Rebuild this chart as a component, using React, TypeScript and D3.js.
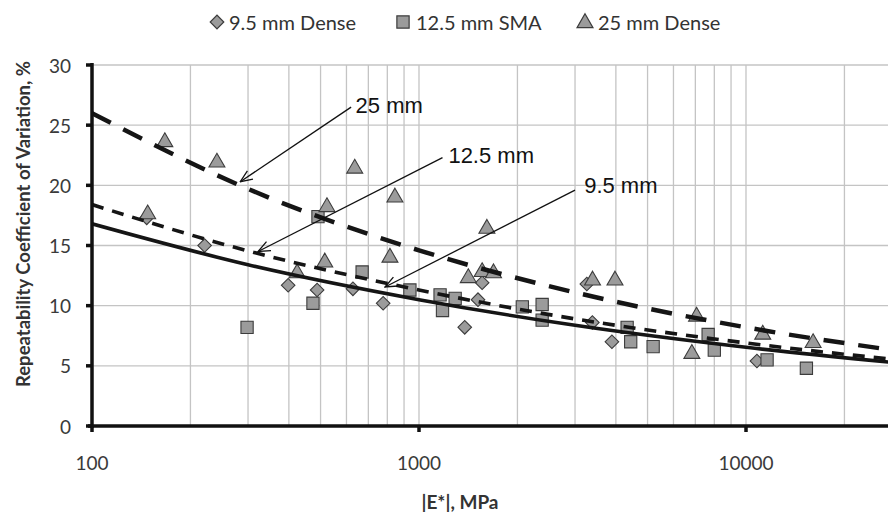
import React from "react";
import * as d3 from "d3";

const W = 888;
const H = 518;

// Tick labels
const yTicks = [0, 5, 10, 15, 20, 25, 30];
const xTickLabels = [100, 1000, 10000];
const legendLabels = ["9.5 mm Dense", "12.5 mm SMA", "25 mm Dense"];

// Scatter data: [|E*| MPa, CoV %]
const dense95: [number, number][] = [
  [147, 17.3], [221, 15.0], [398, 11.7], [488, 11.3], [628, 11.4], [777, 10.2],
  [1380, 8.2], [1515, 10.5], [1560, 11.9], [3260, 11.8], [3390, 8.6], [3890, 7.0],
  [10800, 5.4],
];
const sma125: [number, number][] = [
  [298, 8.2], [474, 10.2], [491, 17.4], [670, 12.8], [938, 11.3], [1160, 10.9],
  [1180, 9.6], [1290, 10.6], [2070, 9.9], [2380, 10.1], [2380, 8.8], [4330, 8.2],
  [4440, 7.0], [5200, 6.6], [7660, 7.6], [8000, 6.3], [11600, 5.5], [15300, 4.8],
];
const dense25: [number, number][] = [
  [148, 17.6], [167, 23.6], [241, 21.9], [424, 12.7], [515, 13.6], [523, 18.2],
  [636, 21.4], [815, 14.0], [844, 19.0], [1415, 12.3], [1560, 12.8], [1613, 16.4],
  [1690, 12.7], [3394, 12.1], [3975, 12.1], [6830, 6.0], [7060, 9.1], [11250, 7.6],
  [16040, 6.9],
];

// Trend lines
const trend95: [number, number][] = [
  [100, 16.8], [300, 13.4], [1000, 10.5], [3000, 8.37], [10000, 6.54], [30000, 5.2],
];
const trend125: [number, number][] = [
  [100, 18.4], [300, 14.55], [1000, 11.3], [3000, 8.9], [10000, 6.9], [30000, 5.46],
];
const trend25: [number, number][] = [
  [100, 26.0], [300, 19.7], [1000, 14.6], [3000, 11.1], [10000, 8.2], [30000, 6.2],
];

// Annotations: label, text anchor point (data), arrow start (data), arrow end (data)
const annotations = [
  { label: "25 mm", tx: 640, ty: 26.6, sx: 620, sy: 26.5, ex: 284, ey: 20.3 },
  { label: "12.5 mm", tx: 1230, ty: 22.5, sx: 1180, sy: 22.3, ex: 322, ey: 14.5 },
  { label: "9.5 mm", tx: 3200, ty: 20.0, sx: 3000, sy: 19.6, ex: 787, ey: 11.55 },
];

export default function App() {
  const x = d3.scaleLog().domain([100, 100000]).range([92, 1073]);
  const y = d3.scaleLinear().domain([0, 30]).range([426, 65]);
  const gridX = x.ticks().filter((t) => t > 100);
  const line = d3
    .line<[number, number]>()
    .x((d) => x(d[0]))
    .y((d) => y(d[1]))
    .curve(d3.curveMonotoneX);

  const diamond = d3.symbol().type(d3.symbolSquare).size(92)()!;
  const square = d3.symbol().type(d3.symbolSquare).size(150)()!;
  const triangle = d3.symbol().type(d3.symbolTriangle).size(110)()!;

  const fill = "#9b9b9b";
  const stroke = "#3c3c3c";
  const plotLeft = x(100);
  const plotTop = y(30);
  const plotBottom = y(0);

  const legendPos = [
    { sx: 217, tx: 229, shape: diamond, rot: 45 },
    { sx: 403, tx: 416, shape: square, rot: 0 },
    { sx: 585, tx: 598, shape: triangle, rot: 0 },
  ];

  return (
    <svg
      width={W}
      height={H}
      style={{ position: "absolute", left: 0, top: 0, background: "#fff" }}
    >
      <defs>
        <clipPath id="plot">
          <rect x={plotLeft} y={plotTop - 8} width={W - plotLeft} height={plotBottom - plotTop + 8} />
        </clipPath>
        <marker
          id="arr"
          viewBox="0 0 14 14"
          refX={13}
          refY={7}
          markerWidth={14}
          markerHeight={14}
          markerUnits="userSpaceOnUse"
          orient="auto"
        >
          <path d="M1,2 L13,7 L1,12" fill="none" stroke="#111" strokeWidth={1.3} />
        </marker>
      </defs>
      <rect x={0} y={0} width={W} height={H} fill="#fff" />

      {/* legend */}
      {legendLabels.map((lab, i) => (
        <g key={lab}>
          <path
            d={legendPos[i].shape}
            transform={`translate(${legendPos[i].sx},${i === 2 ? 23 : 22}) rotate(${legendPos[i].rot})`}
            fill={fill}
            stroke={stroke}
            strokeWidth={1.2}
          />
          <text
            x={legendPos[i].tx}
            y={22}
            dominantBaseline="central"
            fontFamily="Lato, 'Open Sans', sans-serif"
            fontSize={20}
            fill="#333"
          >
            {lab}
          </text>
        </g>
      ))}

      {/* gridlines */}
      <g stroke="#c4c4c4" strokeWidth={1.3}>
        {yTicks.filter((t) => t > 0).map((t) => (
          <line key={"h" + t} x1={plotLeft} x2={W} y1={y(t)} y2={y(t)} />
        ))}
        {gridX.map((t) => (
          <line key={"v" + t} x1={x(t)} x2={x(t)} y1={plotTop} y2={plotBottom} />
        ))}
      </g>

      <g clipPath="url(#plot)">
        {/* markers */}
        {dense95.map((d, i) => (
          <path key={"d" + i} d={diamond} transform={`translate(${x(d[0])},${y(d[1])}) rotate(45)`} fill={fill} stroke={stroke} strokeWidth={1.1} />
        ))}
        {sma125.map((d, i) => (
          <path key={"s" + i} d={square} transform={`translate(${x(d[0])},${y(d[1])})`} fill={fill} stroke={stroke} strokeWidth={1.1} />
        ))}
        {dense25.map((d, i) => (
          <path key={"t" + i} d={triangle} transform={`translate(${x(d[0])},${y(d[1])})`} fill={fill} stroke={stroke} strokeWidth={1.1} />
        ))}

        {/* trend lines */}
        <path d={line(trend25)!} fill="none" stroke="#151515" strokeWidth={4.5} strokeDasharray="21,14" />
        <path d={line(trend125)!} fill="none" stroke="#151515" strokeWidth={3.6} strokeDasharray="12,9" />
        <path d={line(trend95)!} fill="none" stroke="#151515" strokeWidth={3.6} />
      </g>

      {/* axes */}
      <line x1={plotLeft} x2={plotLeft} y1={plotTop - 2} y2={plotBottom + 2} stroke="#111" strokeWidth={3.5} />
      <line x1={plotLeft - 4} x2={W} y1={plotBottom} y2={plotBottom} stroke="#111" strokeWidth={3.5} />
      {yTicks.map((t) => (
        <g key={"yt" + t}>
          <line x1={plotLeft - 6} x2={plotLeft} y1={y(t)} y2={y(t)} stroke="#111" strokeWidth={3.5} />
          <text
            x={71}
            y={y(t)}
            textAnchor="end"
            dominantBaseline="central"
            fontFamily="Lato, 'Open Sans', sans-serif"
            fontSize={19}
            fill="#3a3a3a"
          >
            {t}
          </text>
        </g>
      ))}
      {xTickLabels.map((t) => (
        <g key={"xt" + t}>
          <line x1={x(t)} x2={x(t)} y1={plotBottom} y2={plotBottom + 6} stroke="#111" strokeWidth={3.5} />
          <text
            x={x(t)}
            y={462}
            textAnchor="middle"
            dominantBaseline="central"
            fontFamily="Lato, 'Open Sans', sans-serif"
            fontSize={19}
            fill="#3a3a3a"
          >
            {t}
          </text>
        </g>
      ))}

      {/* axis titles */}
      <text
        x={460}
        y={501}
        textAnchor="middle"
        dominantBaseline="central"
        fontFamily="Lato, 'Open Sans', sans-serif"
        fontWeight="bold"
        fontSize={19}
        fill="#333"
      >
        |E*|, MPa
      </text>
      <text
        transform={`translate(23,224) rotate(-90)`}
        textAnchor="middle"
        dominantBaseline="central"
        fontFamily="Lato, 'Open Sans', sans-serif"
        fontWeight="bold"
        fontSize={18.5}
        fill="#333"
      >
        Repeatability Coefficient of Variation, %
      </text>

      {/* annotations */}
      {annotations.map((a) => (
        <g key={a.label}>
          <line
            x1={x(a.sx)}
            y1={y(a.sy)}
            x2={x(a.ex)}
            y2={y(a.ey)}
            stroke="#111"
            strokeWidth={1.3}
            markerEnd="url(#arr)"
          />
          <text
            x={x(a.tx)}
            y={y(a.ty)}
            dominantBaseline="central"
            fontFamily="'Liberation Sans', Arial, sans-serif"
            fontSize={22}
            fill="#111"
          >
            {a.label}
          </text>
        </g>
      ))}
    </svg>
  );
}
